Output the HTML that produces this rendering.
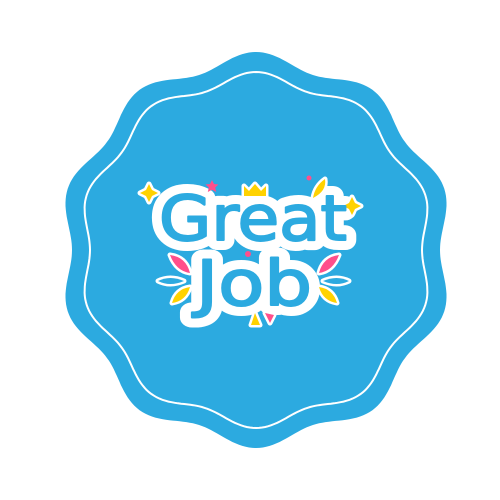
<!DOCTYPE html>
<html><head><meta charset="utf-8"><style>body{margin:0;background:#fff}svg{display:block}</style></head>
<body>
<svg id="s" width="500" height="500" viewBox="0 0 500 500">
<path id="outer" fill="#2caae0"/>
<path id="inner" fill="none" stroke="#fff" stroke-width="2"/>
<g font-family="'DejaVu Sans', sans-serif" font-weight="normal" text-anchor="middle" stroke-linejoin="round">
<text x="253" y="240" font-size="62" textLength="188" lengthAdjust="spacingAndGlyphs" fill="#fff" stroke="#fff" stroke-width="20">Great</text>
<text x="254" y="305" font-size="62" textLength="116" lengthAdjust="spacingAndGlyphs" fill="#fff" stroke="#fff" stroke-width="20">Job</text>
</g>
<g stroke="#fff" stroke-width="5" paint-order="stroke" stroke-linejoin="round">
<path d="M149 184 l3 6 6 3 -6 3 -3 6 -3 -6 -6 -3 6 -3z" fill="#ffd200"/>
<path d="M352 197 l3 6 6 3 -6 3 -3 6 -3 -6 -6 -3 6 -3z" fill="#ffd200"/>
<path d="M212 180 l2 4 4.5 .5 -3.3 3 1 4.5 -4.2 -2.3 -4.2 2.3 1 -4.5 -3.3 -3 4.5 -.5z" fill="#ff4f8b" stroke="none"/>
<path d="M244 196 l0 -10 5 5 6 -7 6 7 5 -5 0 10z" fill="#ffd200"/>
<circle cx="309" cy="178" r="2.5" fill="#ff4f8b" stroke="none"/>
<path d="M313 198 q2 -12 12 -19 q2 12 -12 19z" fill="#ffd200"/>
<path d="M170 255 q16 2 20 18 q-14 -2 -20 -18z" fill="#ff4f8b"/>
<path d="M158 281 q12 -6 26 0 q-14 6 -26 0z" fill="#2caae0"/>
<path d="M172 303 q4 -14 18 -16 q-4 14 -18 16z" fill="#ffd200"/>
<path d="M339 255 q-16 2 -20 18 q14 -2 20 -18z" fill="#ff4f8b"/>
<path d="M349 281 q-12 -6 -26 0 q14 6 26 0z" fill="#2caae0"/>
<path d="M337 303 q-4 -14 -18 -16 q4 14 18 16z" fill="#ffd200"/>
<path d="M255 313 l5 12 -9 0z" fill="#ffd200"/>
<path d="M265 313 l9 2 -4 8z" fill="#ff4f8b"/>
<circle cx="248" cy="254" r="3" fill="#ff4f8b" stroke="none"/>
</g>
<g font-family="'DejaVu Sans', sans-serif" font-weight="normal" fill="#2caae0" stroke="#2caae0" stroke-width="2" stroke-linejoin="round" text-anchor="middle">
<text x="253" y="240" font-size="62" textLength="188" lengthAdjust="spacingAndGlyphs">Great</text>
<text x="254" y="305" font-size="62" textLength="116" lengthAdjust="spacingAndGlyphs">Job</text>
</g>
</svg>
<script>
function wave(R,a,n){let d='';for(let i=0;i<=360;i++){const t=i*Math.PI/180;const r=R+a*Math.cos(n*t);const x=256+r*Math.sin(t),y=250-r*Math.cos(t);d+=(i?'L':'M')+x.toFixed(1)+' '+y.toFixed(1);}return d+'Z';}
document.getElementById('outer').setAttribute('d',wave(191,7,10));
document.getElementById('inner').setAttribute('d',wave(172,6,10));
</script>
</body></html>
